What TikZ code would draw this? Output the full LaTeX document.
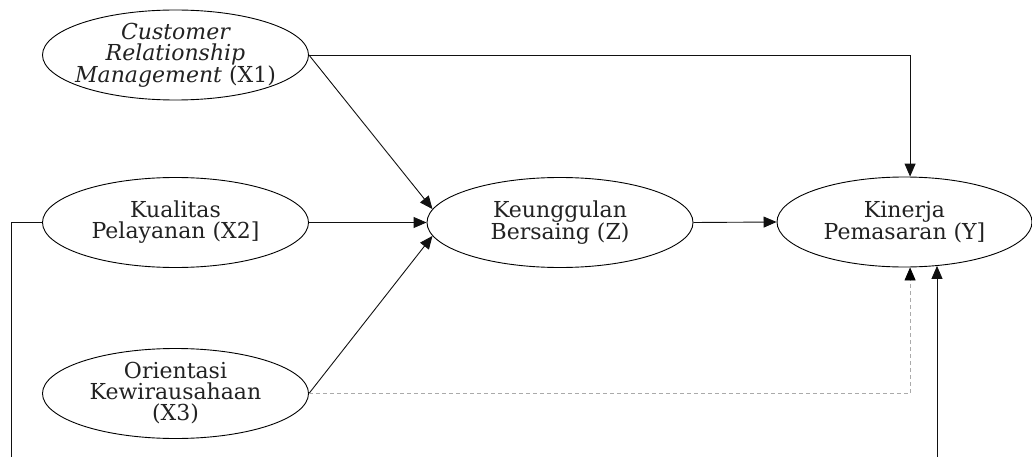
\documentclass[tikz,border=0pt]{standalone}
\usepackage{fontspec}
\setmainfont{DejaVu Serif}
\usetikzlibrary{shapes.geometric,arrows.meta}
\definecolor{ln}{HTML}{111111}
\definecolor{txt}{HTML}{222222}
\definecolor{dsh}{HTML}{AAAAAA}
\tikzset{
  var/.style={draw=black, line width=0.9pt, ellipse, inner sep=0pt,
    minimum width=266pt, minimum height=90pt},
  lbl/.style={align=center, inner sep=0pt,
    font=\fontsize{22}{21}\selectfont, text=txt},
  conn/.style={draw=ln, line width=0.9pt},
  arr/.style={conn, -{Triangle[length=13pt,width=11pt]}},
  dsharr/.style={draw=dsh, line width=0.8pt, dash pattern=on 4pt off 3pt,
    -{Triangle[length=13pt,width=11pt,fill=black,color=black]}},
}
\begin{document}
\begin{tikzpicture}[x=1pt,y=-1pt]
\useasboundingbox (0,0) rectangle (1032,457);
\node[var] (x1) at (175.5,55) {};
\node[var] (x2) at (175.5,222.5) {};
\node[var] (x3) at (175.5,393.5) {};
\node[var] (z) at (560,222.5) {};
\node[var, minimum width=255pt] (y) at (904.5,222) {};
\node[lbl] (t1) at (x1) {\itshape Customer\\\itshape Relationship\\\itshape Management \upshape(X1)};
\node[lbl] (t2) at (x2) {Kualitas\\Pelayanan (X2]};
\node[lbl] (t3) at (x3) {Orientasi\\Kewirausahaan\\(X3)};
\node[lbl] (tz) at (z) {Keunggulan\\Bersaing (Z)};
\node[lbl] (ty) at (y) {Kinerja\\Pemasaran (Y]};
\coordinate (lb) at (11,457);
\coordinate (rb) at (937,457);
\draw[arr] (x1.east) -| (y.83);
\draw[arr] (x1.east) -- (z.174);
\draw[arr] (x2.east) -- (z.west);
\draw[arr] (x3.east) -- (z.186);
\draw[arr] (z.east) -- (y.west);
\draw[conn] (x2.west) -| (lb);
\draw[arr] (rb) -- (rb |- y.-53.24);
\draw[dsharr] (x3.east) -| (y.-83);
\end{tikzpicture}
\end{document}
